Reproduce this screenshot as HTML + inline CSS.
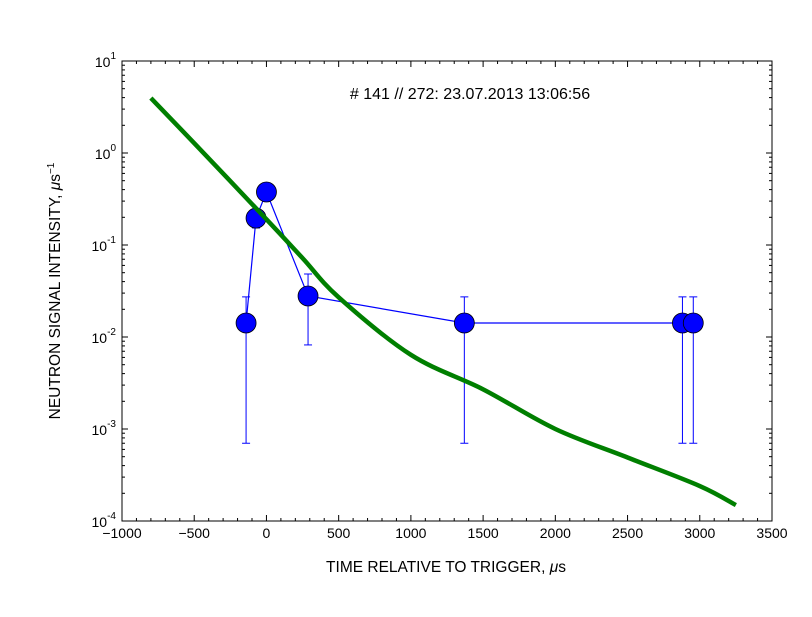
<!DOCTYPE html>
<html><head><meta charset="utf-8"><style>
body{margin:0;background:#fff;}
svg text{font-family:"Liberation Sans",sans-serif;}
</style></head><body>
<svg id="chart" width="812" height="612" xmlns="http://www.w3.org/2000/svg">
<rect width="812" height="612" fill="#fff"/>
<g id="ticks"></g>
<g id="series"></g>
<rect x="122" y="61" width="650" height="460" fill="none" stroke="#000" stroke-width="1"/>
<text x="470" y="99" font-size="16" text-anchor="middle">#  141 // 272: 23.07.2013 13:06:56</text>
<text x="446" y="572" font-size="15.5" text-anchor="middle">TIME RELATIVE TO TRIGGER, <tspan font-style="italic">μ</tspan>s</text>
<text transform="translate(60,291) rotate(-90)" font-size="15.5" text-anchor="middle">NEUTRON SIGNAL INTENSITY, <tspan font-style="italic">μ</tspan>s<tspan dy="-6" font-size="10">−1</tspan></text>
</svg>
<script>
const xTicks=[-1000,-500,0,500,1000,1500,2000,2500,3000,3500];
const xTickLabels=["−1000","−500","0","500","1000","1500","2000","2500","3000","3500"];
const yDecades=[1,0,-1,-2,-3,-4];
const pointX=[-141,-72,0,288,1370,2880,2955];
const pointY=[0.0142,0.196,0.377,0.0279,0.0142,0.0142,0.0142];
const errLow=[0.0007,0.153,0.377,0.0082,0.0007,0.0007,0.0007];
const errHigh=[0.0273,0.22,0.377,0.0484,0.0273,0.0273,0.0273];
const curveX=[-800,-500,0,250,500,1000,1500,2000,2500,3000,3250];
const curveY=[3.96,1.28,0.19,0.072,0.027,0.0064,0.0027,0.001,0.00049,0.00024,0.000149];

const L=122,R=772,T=61,B=521;
const xs=v=>L+(v+1000)/4500*(R-L);
const ys=v=>T+(1-Math.log10(v))/5*(B-T);
const NS="http://www.w3.org/2000/svg";
function mk(tag,attrs,parent){const e=document.createElementNS(NS,tag);for(const k in attrs)e.setAttribute(k,attrs[k]);parent.appendChild(e);return e;}
const tg=document.getElementById('ticks'), sg=document.getElementById('series');

xTicks.forEach((v,i)=>{
  const x=xs(v);
  const a=mk('line',{x1:x,x2:x,y1:B,y2:B-6,stroke:'#000'},tg);
  
  
  mk('line',{x1:x,x2:x,y1:T,y2:T+6,stroke:'#000'},tg);
  const t=mk('text',{x:x,y:B+17,'font-size':14,'text-anchor':'middle'},tg);
  t.textContent=xTickLabels[i];
  
  
  if(i<xTicks.length-1){for(let m=1;m<5;m++){const xm=xs(v+m*100);
    mk('line',{x1:xm,x2:xm,y1:B,y2:B-3,stroke:'#000'},tg);
    mk('line',{x1:xm,x2:xm,y1:T,y2:T+3,stroke:'#000'},tg);}}
});
yDecades.forEach((d,i)=>{
  const y=ys(Math.pow(10,d));
  const a=mk('line',{x1:L,x2:L+6,y1:y,y2:y,stroke:'#000'},tg);
  
  
  mk('line',{x1:R,x2:R-6,y1:y,y2:y,stroke:'#000'},tg);
  const t=mk('text',{x:L-6,y:y+6,'font-size':14,'text-anchor':'end'},tg);
  t.innerHTML='10<tspan dy="-8" font-size="10">'+(d<0?'-'+(-d):d)+'</tspan>';
  
  
  if(d>-4){for(let m=2;m<10;m++){const ym=ys(m*Math.pow(10,d-1));
    mk('line',{x1:L,x2:L+3,y1:ym,y2:ym,stroke:'#000'},tg);
    mk('line',{x1:R,x2:R-3,y1:ym,y2:ym,stroke:'#000'},tg);}}
});

pointX.forEach((v,i)=>{
  const x=xs(v),y1=ys(errLow[i]),y2=ys(errHigh[i]);
  const e=mk('line',{x1:x,x2:x,y1:y1,y2:y2,stroke:'#0000ff'},sg);
  
  
  mk('line',{x1:x-4,x2:x+4,y1:y1,y2:y1,stroke:'#0000ff'},sg);
  mk('line',{x1:x-4,x2:x+4,y1:y2,y2:y2,stroke:'#0000ff'},sg);
});
const pl=mk('polyline',{points:pointX.map((v,i)=>xs(v)+','+ys(pointY[i])).join(' '),fill:'none',stroke:'#0000ff','stroke-width':1.2},sg);


pointX.forEach((v,i)=>{
  const c=mk('circle',{cx:xs(v),cy:ys(pointY[i]),r:10,fill:'#0000ff',stroke:'#000','stroke-width':0.8},sg);
  
  
});
// smooth curve (Catmull-Rom -> bezier) in pixel space
const P=curveX.map((v,i)=>[xs(v),ys(curveY[i])]);
let d='M'+P[0][0]+','+P[0][1];
for(let i=0;i<P.length-1;i++){
  const p0=P[Math.max(0,i-1)],p1=P[i],p2=P[i+1],p3=P[Math.min(P.length-1,i+2)];
  const c1=[p1[0]+(p2[0]-p0[0])/6,p1[1]+(p2[1]-p0[1])/6];
  const c2=[p2[0]-(p3[0]-p1[0])/6,p2[1]-(p3[1]-p1[1])/6];
  d+=' C'+c1[0]+','+c1[1]+' '+c2[0]+','+c2[1]+' '+p2[0]+','+p2[1];
}
const cv=mk('path',{d:d,fill:'none',stroke:'#007f00','stroke-width':4.5,'stroke-linejoin':'round'},sg);


</script>
</body></html>
